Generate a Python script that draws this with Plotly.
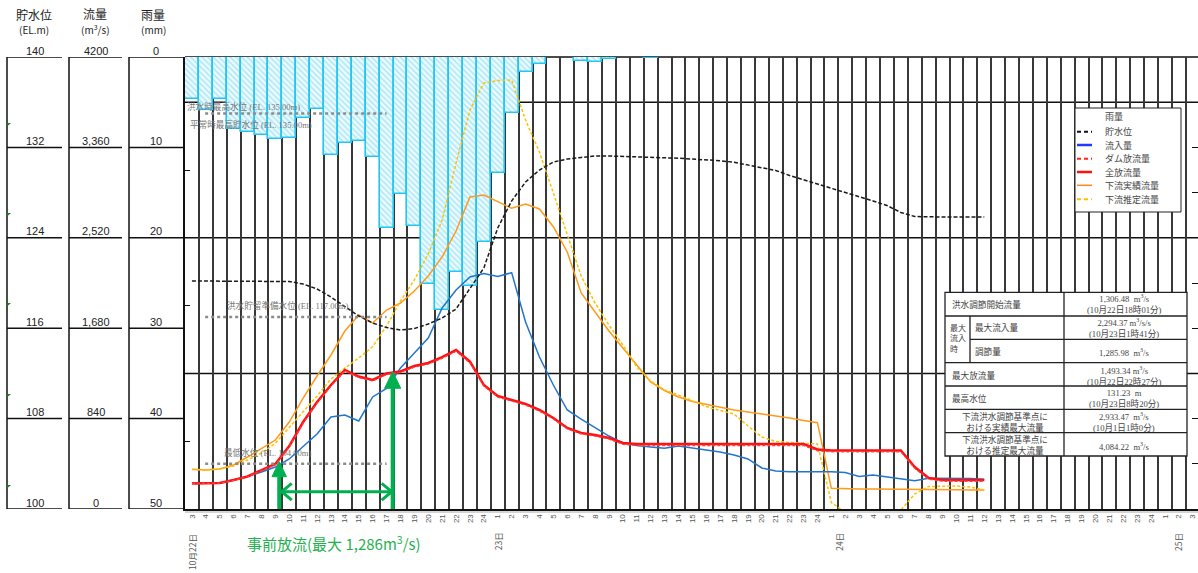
import plotly.graph_objects as go

# ---------------- data (hour index counted from 10/22 0:00) ----------------
hours = list(range(3, 61))          # 22日3時 ... 24日12時
rain_hours = list(range(3, 37))
rain_mm = [4.6, 5.9, 4.6, 8.0, 8.3, 8.6, 9.1, 9.0, 6.8, 5.7,
           10.8, 9.5, 9.3, 11.1, 18.9, 15.2, 18.7, 25.1, 28.0, 23.8,
           25.3, 20.5, 12.8, 6.2, 1.7, 0.8, 0, 0, 0.4, 0.6,
           0.2, 0, 0, 0.1]
level_m = [120.18, 120.18, 120.18, 120.18, 120.18, 120.18, 120.18, 120.13, 119.91, 119.47,
           118.76, 117.92, 117.08, 116.46, 116.06, 115.84, 115.97, 116.37, 116.90, 117.70,
           119.47, 121.33, 124.87, 127.26, 128.94, 130.00, 130.71, 130.97, 131.11, 131.24,
           131.24, 131.21, 131.19, 131.15, 131.09, 131.04, 130.97, 130.90, 130.82, 130.68,
           130.46, 130.20, 129.96, 129.51, 129.16, 128.76, 128.38, 128.02, 127.65, 127.26,
           126.86, 126.24, 125.88, 125.84, 125.84, 125.84, 125.84, 125.84]
inflow = [239, 239, 239, 269, 302, 344, 390, 465, 585, 697,
          855, 873, 818, 1041, 1120, 1310, 1450, 1589, 1868, 2035,
          2156, 2188, 2160, 2196, 1738, 1412, 1152, 920, 836, 753,
          678, 613, 590, 576, 564, 585, 567, 548, 530, 502,
          465, 381, 353, 347, 347, 347, 347, 339, 302, 316,
          297, 276, 263, 285, 285, 285, 283, 276]
dam_outflow = [235, 235, 240, 266, 298, 356, 410, 575, 797, 983,
               1140, 1282, 1220, 1189, 1249, 1268, 1318, 1346, 1400, 1465,
               1358, 1141, 1040, 1003, 966, 910, 836, 744, 697, 678,
               650, 600, 590, 590, 590, 590, 590, 590, 590, 590,
               590, 590, 590, 590, 590, 540, 532, 532, 532, 532,
               532, 532, 378, 276, 258, 258, 258, 258]
total_outflow = [237, 237, 242, 269, 302, 362, 418, 585, 808, 994,
                 1152, 1292, 1231, 1199, 1259, 1278, 1329, 1357, 1412, 1477,
                 1369, 1152, 1050, 1013, 976, 920, 846, 753, 706, 688,
                 660, 613, 604, 604, 604, 604, 604, 604, 604, 604,
                 604, 604, 604, 604, 604, 553, 544, 544, 544, 544,
                 544, 544, 390, 288, 269, 269, 269, 269]
down_actual = [369, 362, 372, 409, 483, 558, 641, 808, 1031, 1236,
               1431, 1654, 1803, 1728, 1849, 1914, 2026, 2165, 2342, 2583,
               2899, 2918, 2853, 2794, 2834, 2788, 2623, 2388, 2007, 1831,
               1654, 1496, 1338, 1180, 1101, 1041, 999, 971, 943, 920,
               901, 883, 864, 846, 822, 802, 192, 186, 186, 186,
               186, 186, 186, 186, 183, 180, 177, 177]
down_est = [367, 362, 372, 400, 455, 520, 610, 757, 911, 1050,
            1208, 1310, 1403, 1508, 1700, 1933, 2128, 2370, 2685, 3215,
            3707, 3958, 3982, 3986, 3614, 3317, 2936, 2546, 2166, 1914,
            1710, 1524, 1319, 1189, 1106, 1059, 1004, 952, 915, 883,
            771, 669, 627, 616, 610, 604, 60, -30, -30, -30,
            -25, -10, 140, 209, 214, 214, 204, 177]

tick_hours = list(range(3, 76))
tick_text = [str((h - 1) % 24 + 1) for h in tick_hours]
date_hours = [3, 25, 49.5, 73.9]
date_text = ["10月22日", "23日", "24日", "25日"]

level_ticks = [140, 132, 124, 116, 108, 100]
flow_ticks = [4200, 3360, 2520, 1680, 840, 0]
flow_tick_text = ["4200", "3,360", "2,520", "1,680", "840", "0"]
rain_ticks = [0, 10, 20, 30, 40, 50]

ref_levels = [135, 117, 104]
ref_labels = ["洪水時最高水位 (EL. 135.00m)", "平常時最高貯水位 (EL. 135.00m)",
              "洪水貯留準備水位 (EL. 117.00m)", "最低水位 (EL. 104.00m)"]
ref_label_pos = [(2.5, 135.66), (2.74, 134.07), (5.38, 118.05), (5.14, 105.0)]

# ---------------- geometry helpers ----------------
W, H = 1198, 573
L, T, PW, PH = 185, 57, 1013, 452
HOUR_PX = 13.9


def px(x):
    return (x - L) / PW


def py(y):
    return (T + PH - y) / PH


JP = "Noto Sans CJK JP"
SERIF_JP = "Liberation Serif, Noto Sans CJK JP"
SANS = "Liberation Sans, Arial, sans-serif"

fig = go.Figure()

# rain bars (hanging from the top)
fig.add_trace(go.Bar(
    x=rain_hours, y=rain_mm, width=1, name="雨量", yaxis="y",
    marker=dict(color="#f2fcff",
                line=dict(color="#22c6f2", width=1.6),
                pattern=dict(shape="\\", fgcolor="#6fd4f2", bgcolor="#f0fcff",
                             size=4, solidity=0.45)),
    showlegend=False, hoverinfo="skip"))

flow_series = [
    ("下流実績流量", down_actual, "#ff9a1a", "solid", 1.5),
    ("下流推定流量", down_est, "#ffc000", "3px,2px", 1.5),
    ("流入量", inflow, "#2275cc", "solid", 1.5),
    ("全放流量", total_outflow, "#ff1010", "solid", 2.5),
    ("ダム放流量", dam_outflow, "#ff4040", "3px,2px", 1.3),
]
for name, vals, col, dash, w in flow_series:
    fig.add_trace(go.Scatter(x=hours, y=vals, mode="lines", name=name, yaxis="y2",
                             line=dict(color=col, dash=dash, width=w),
                             showlegend=False))

fig.add_trace(go.Scatter(x=hours, y=level_m, mode="lines", name="貯水位", yaxis="y3",
                         line=dict(color="#1a1a1a", dash="4px,2px", width=1.5),
                         showlegend=False))
fig.add_trace(go.Scatter(x=[], y=[], yaxis="y4", showlegend=False, hoverinfo="skip"))

shapes = []
annotations = []

# horizontal grid (level 112, 124, 136)
for lv in [112, 124, 136]:
    shapes.append(dict(type="line", xref="paper", yref="y3", x0=0, x1=1, y0=lv, y1=lv,
                       line=dict(color="#111", width=1.5), layer="below"))
shapes.append(dict(type="line", xref="paper", yref="paper", x0=0, x1=1, y0=1, y1=1,
                   line=dict(color="#111", width=1.5), layer="below"))
shapes.append(dict(type="line", xref="paper", yref="paper", x0=0, x1=1, y0=py(512), y1=py(512),
                   line=dict(color="#aaa", width=1), layer="below"))

# reference levels
for lv in ref_levels:
    shapes.append(dict(type="line", xref="x", yref="y3", x0=3.95, x1=17.0, y0=lv, y1=lv,
                       line=dict(color="#8c8c8c", width=2.5, dash="dot"), layer="above"))
for txt, (xx, yy) in zip(ref_labels, ref_label_pos):
    annotations.append(dict(text=txt, x=xx, y=yy, xref="x", yref="y3", xanchor="left",
                            yanchor="middle", showarrow=False,
                            font=dict(size=8.6, color="#777", family=SERIF_JP)))

# green arrows (pre-release)
G = "#00b050"
a1, a2 = 9.28, 17.44
shapes.append(dict(type="line", xref="x", yref="y2", x0=a1, x1=a1, y0=-20, y1=300,
                   line=dict(color=G, width=4)))
shapes.append(dict(type="path", xref="x", yref="y2",
                   path=f"M {a1-0.52},300 L {a1+0.52},300 L {a1},440 Z",
                   fillcolor=G, line=dict(color=G, width=1)))
shapes.append(dict(type="line", xref="x", yref="y2", x0=a2, x1=a2, y0=-20, y1=1122,
                   line=dict(color=G, width=4)))
shapes.append(dict(type="path", xref="x", yref="y2",
                   path=f"M {a2-0.58},1122 L {a2+0.58},1122 L {a2},1276 Z",
                   fillcolor=G, line=dict(color=G, width=1)))
h0, h1, hy = 9.46, 17.37, 161
shapes.append(dict(type="line", xref="x", yref="y2", x0=h0, x1=h1, y0=hy, y1=hy,
                   line=dict(color=G, width=3)))
shapes.append(dict(type="path", xref="x", yref="y2",
                   path=f"M {h0+0.72},{hy+78} L {h0},{hy} L {h0+0.72},{hy-78}",
                   fillcolor="rgba(0,0,0,0)", line=dict(color=G, width=3)))
shapes.append(dict(type="path", xref="x", yref="y2",
                   path=f"M {h1-0.72},{hy+78} L {h1},{hy} L {h1-0.72},{hy-78}",
                   fillcolor="rgba(0,0,0,0)", line=dict(color=G, width=3)))
annotations.append(dict(text="事前放流(最大 1,286m<sup>3</sup>/s)", x=13.22, y=py(543),
                        xref="x", yref="paper", showarrow=False, xanchor="center",
                        yanchor="middle", font=dict(size=15, color="#1fb14f", family=JP)))

# date labels
date_y = [py(552), py(541.5), py(541.5), py(541.5)]
for hh, txt, yy in zip(date_hours, date_text, date_y):
    annotations.append(dict(text=txt, x=hh, y=yy, xref="x", yref="paper", showarrow=False,
                            textangle=-90, xanchor="center", yanchor="middle",
                            font=dict(size=8.5, color="#555", family=JP)))

# left-side scale columns
cols = [(7, 62), (69, 122), (129, 183)]
for x0, x1 in cols:
    shapes.append(dict(type="line", xref="paper", yref="paper", x0=px(x0), x1=px(x0),
                       y0=0, y1=1, line=dict(color="#111", width=1.5)))
    for fv in flow_ticks:
        shapes.append(dict(type="line", xref="paper", yref="y2", x0=px(x0), x1=px(x1),
                           y0=fv, y1=fv, line=dict(color="#111", width=1.5)))
for lv in level_ticks:
    annotations.append(dict(text=str(lv), x=px(34.5), y=lv, xref="paper", yref="y3",
                            yshift=6.5, showarrow=False, xanchor="center", yanchor="middle",
                            font=dict(size=11, color="#222", family=SANS)))
for fv, ft in zip(flow_ticks, flow_tick_text):
    annotations.append(dict(text=ft, x=px(95.5), y=fv, xref="paper", yref="y2",
                            yshift=6.5, showarrow=False, xanchor="center", yanchor="middle",
                            font=dict(size=11, color="#222", family=SANS)))
for rv in rain_ticks:
    annotations.append(dict(text=str(rv), x=px(156), y=rv, xref="paper", yref="y",
                            yshift=6.5, showarrow=False, xanchor="center", yanchor="middle",
                            font=dict(size=11, color="#222", family=SANS)))
headers = [("貯水位", 34, 15, 12), ("(EL.m)", 34, 29.5, 10),
           ("流量", 95, 13, 12), ("(m<sup>3</sup>/s)", 95, 29.5, 10),
           ("雨量", 153, 15, 12), ("(mm)", 153, 29.5, 10)]
for txt, xx, yy, sz in headers:
    annotations.append(dict(text=txt, x=px(xx), y=py(yy), xref="paper", yref="paper",
                            showarrow=False, xanchor="center", yanchor="middle",
                            font=dict(size=sz, color="#222", family=JP)))
for gy in [123, 213, 303, 394, 485]:
    shapes.append(dict(type="path", xref="paper", yref="paper",
                       path=f"M {px(7.5)},{py(gy)} L {px(11)},{py(gy)} L {px(7.5)},{py(gy+3)} Z",
                       fillcolor="#1a8a1a", line=dict(width=0)))

# legend box
shapes.append(dict(type="rect", xref="paper", yref="paper", x0=px(1075), x1=px(1181),
                   y0=py(212), y1=py(108), fillcolor="white", line=dict(color="#222", width=1)))
legend_rows = [("雨量", 116, None, None, 0), ("貯水位", 131.7, "#111", "4px,3px", 2),
               ("流入量", 145, "#1f3cff", "solid", 2.5), ("ダム放流量", 158.7, "#ff2020", "4px,3px", 2),
               ("全放流量", 172, "#ff1010", "solid", 2.5), ("下流実績流量", 185.3, "#ff8a20", "solid", 1.5),
               ("下流推定流量", 199.3, "#ffc000", "4px,3px", 2)]
for txt, yy, col, dash, w in legend_rows:
    if col:
        shapes.append(dict(type="line", xref="paper", yref="paper", x0=px(1077), x1=px(1092),
                           y0=py(yy), y1=py(yy), line=dict(color=col, dash=dash, width=w)))
    annotations.append(dict(text=txt, x=px(1103), y=py(yy), xref="paper", yref="paper",
                            showarrow=False, xanchor="left", yanchor="middle",
                            font=dict(size=9, color="#444", family=JP)))

# summary table
TL, TM, TS, TR = 945, 1064, 970, 1187
shapes.append(dict(type="rect", xref="paper", yref="paper", x0=px(TL), x1=px(TR),
                   y0=py(456), y1=py(292.3), fillcolor="white", line=dict(color="#222", width=1.3)))
shapes.append(dict(type="line", xref="paper", yref="paper", x0=px(TM), x1=px(TM),
                   y0=py(456), y1=py(292.3), line=dict(color="#222", width=1.3)))
shapes.append(dict(type="line", xref="paper", yref="paper", x0=px(TS), x1=px(TS),
                   y0=py(362.7), y1=py(316), line=dict(color="#222", width=1.3)))
for ry in [316, 362.7, 386, 409.3, 432.7]:
    shapes.append(dict(type="line", xref="paper", yref="paper", x0=px(TL), x1=px(TR),
                       y0=py(ry), y1=py(ry), line=dict(color="#222", width=1.3)))
shapes.append(dict(type="line", xref="paper", yref="paper", x0=px(TS), x1=px(TR),
                   y0=py(339.3), y1=py(339.3), line=dict(color="#222", width=1.3)))
NB = "\u00a0"
table_texts = [
    ("洪水調節開始流量", 950, 304.5, "left", 8.6),
    ("最大<br>流入<br>時", 948, 338.5, "left", 8),
    ("最大流入量", 973, 327.7, "left", 8.6), ("調節量", 973, 351.5, "left", 8.6),
    ("最大放流量", 950, 375, "left", 8.6), ("最高水位", 950, 398, "left", 8.6),
    ("下流洪水調節基準点に<br>おける実績最大流量", 1005, 421.5, "center", 8.6),
    ("下流洪水調節基準点に<br>おける推定最大流量", 1005, 445, "center", 8.6),
    (f"1,306.48{NB}{NB}m<sup>3</sup>/s<br>(10月22日18時01分)", 1124, 304, "center", 8.6),
    ("2,294.37 m<sup>3</sup>/s/s<br>(10月23日1時41分)", 1124, 328, "center", 8.6),
    (f"1,285.98{NB}{NB}m<sup>3</sup>/s", 1124, 352.5, "center", 8.6),
    ("1,493.34 m<sup>3</sup>/s<br>(10月22日22時27分)", 1124, 375.5, "center", 8.6),
    (f"131.23{NB}{NB}m<br>(10月23日8時20分)", 1124, 398.3, "center", 8.6),
    (f"2,933.47{NB}{NB}m<sup>3</sup>/s<br>(10月1日1時0分)", 1124, 422, "center", 8.6),
    (f"4,084.22{NB}{NB}m<sup>3</sup>/s", 1124, 446, "center", 8.6),
]
for txt, xx, yy, anc, sz in table_texts:
    annotations.append(dict(text=txt, x=px(xx), y=py(yy), xref="paper", yref="paper",
                            showarrow=False, xanchor=anc, yanchor="middle", align=anc,
                            font=dict(size=sz, color="#444", family=SERIF_JP)))

fig.update_layout(
    width=W, height=H,
    margin=dict(l=L, r=W - L - PW, t=T, b=H - T - PH, pad=0),
    paper_bgcolor="white", plot_bgcolor="white",
    showlegend=False, bargap=0,
    xaxis=dict(range=[2.5, 2.5 + PW / HOUR_PX], tickmode="array", tickvals=tick_hours,
               ticktext=tick_text, tickangle=-90, ticks="",
               tickfont=dict(size=8, color="#555", family=SANS),
               showgrid=False, zeroline=False, showline=True, linecolor="#111", linewidth=2,
               minor=dict(tickmode="linear", tick0=2.5, dtick=1, showgrid=True,
                          gridcolor="#383838", gridwidth=1.6, ticks="")),
    yaxis=dict(range=[50, 0], visible=False, fixedrange=True),
    yaxis2=dict(range=[0, 4200], overlaying="y", visible=False),
    yaxis3=dict(range=[100, 140], overlaying="y", side="left", showline=True,
                linecolor="#111", linewidth=1.5, ticks="inside", tickmode="array",
                tickvals=[100, 106, 112, 118, 124, 130, 136], ticklen=5, tickcolor="#111",
                showticklabels=False, showgrid=False, zeroline=False),
    yaxis4=dict(range=[100, 140], overlaying="y", side="right", showline=False,
                ticks="inside", tickmode="array", tickvals=list(range(104, 140, 4)),
                ticklen=6, tickcolor="#111", showticklabels=False, showgrid=False,
                zeroline=False),
    shapes=shapes, annotations=annotations,
)

fig.write_html("out.html", config={"displayModeBar": False},
               post_script="document.body.style.margin='0';")
